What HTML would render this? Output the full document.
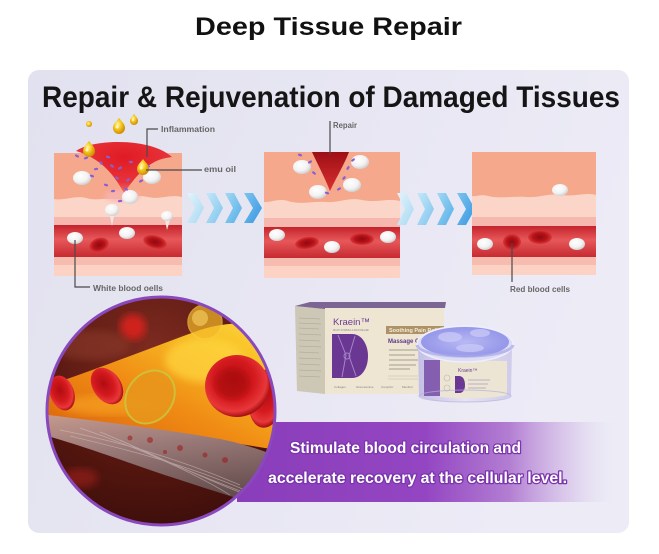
<!DOCTYPE html>
<html><head><meta charset="utf-8">
<style>
html,body{margin:0;padding:0;background:#fff;}
svg{display:block;}
text{font-family:"Liberation Sans",sans-serif;}
</style></head>
<body>
<svg width="659" height="554" viewBox="0 0 659 554" xmlns="http://www.w3.org/2000/svg">
<defs>
  <linearGradient id="cardbg" x1="0" y1="0" x2="1" y2="0.3">
    <stop offset="0" stop-color="#e2e1ef"/>
    <stop offset="0.6" stop-color="#e8e7f3"/>
    <stop offset="1" stop-color="#ecebf6"/>
  </linearGradient>
  <linearGradient id="vessel" x1="0" y1="0" x2="0" y2="1">
    <stop offset="0" stop-color="#c4232c"/>
    <stop offset="0.45" stop-color="#e7585a"/>
    <stop offset="1" stop-color="#c62a31"/>
  </linearGradient>
  <radialGradient id="wedge1" cx="0.5" cy="0.3" r="0.7">
    <stop offset="0" stop-color="#e01b25"/>
    <stop offset="0.7" stop-color="#e8333a"/>
    <stop offset="1" stop-color="#f0706a"/>
  </radialGradient>
  <linearGradient id="wedge2" x1="0" y1="0" x2="0" y2="1">
    <stop offset="0" stop-color="#9e0f16"/>
    <stop offset="1" stop-color="#d8302f"/>
  </linearGradient>
  <radialGradient id="wbc" cx="0.4" cy="0.35" r="0.7">
    <stop offset="0" stop-color="#ffffff"/>
    <stop offset="0.6" stop-color="#f2f2f2"/>
    <stop offset="1" stop-color="#c9c9c9"/>
  </radialGradient>
  <radialGradient id="rbc" cx="0.5" cy="0.5" r="0.5">
    <stop offset="0" stop-color="#8e0a10"/>
    <stop offset="0.6" stop-color="#b8131a"/>
    <stop offset="1" stop-color="#d83a3a"/>
  </radialGradient>
  <radialGradient id="oil" cx="0.4" cy="0.4" r="0.6">
    <stop offset="0" stop-color="#fff6b0"/>
    <stop offset="0.5" stop-color="#f4c818"/>
    <stop offset="1" stop-color="#d08e0c"/>
  </radialGradient>
  <linearGradient id="chev1" x1="0" y1="0" x2="1" y2="1"><stop offset="0" stop-color="#e4f4fb"/><stop offset="1" stop-color="#a6d8f2"/></linearGradient>
  <linearGradient id="chev2" x1="0" y1="0" x2="1" y2="1"><stop offset="0" stop-color="#c4e8f8"/><stop offset="1" stop-color="#7fc4ee"/></linearGradient>
  <linearGradient id="chev3" x1="0" y1="0" x2="1" y2="1"><stop offset="0" stop-color="#a2d8f4"/><stop offset="1" stop-color="#55aee8"/></linearGradient>
  <linearGradient id="chev4" x1="0" y1="0" x2="1" y2="1"><stop offset="0" stop-color="#7cc4f0"/><stop offset="1" stop-color="#3796e0"/></linearGradient>
  <linearGradient id="banner" x1="0" y1="0" x2="1" y2="0">
    <stop offset="0" stop-color="#8a3dba"/>
    <stop offset="0.5" stop-color="#9446c2"/>
    <stop offset="0.72" stop-color="#b27ed2"/>
    <stop offset="0.9" stop-color="#dccbec" stop-opacity="0.7"/>
    <stop offset="1" stop-color="#e6e4f2" stop-opacity="0"/>
  </linearGradient>
  <clipPath id="circ"><circle cx="161" cy="411" r="114"/></clipPath>
  <radialGradient id="circbg" cx="0.45" cy="0.25" r="0.8">
    <stop offset="0" stop-color="#7d2b20"/>
    <stop offset="0.6" stop-color="#55160f"/>
    <stop offset="1" stop-color="#3a0d0a"/>
  </radialGradient>
  <linearGradient id="orange" x1="0" y1="1" x2="1" y2="0">
    <stop offset="0" stop-color="#d65a0c"/>
    <stop offset="0.45" stop-color="#f08c14"/>
    <stop offset="0.8" stop-color="#f8c428"/>
    <stop offset="1" stop-color="#ffd848"/>
  </linearGradient>
  <linearGradient id="wall" x1="0" y1="0" x2="0.3" y2="1">
    <stop offset="0" stop-color="#c79a8e"/>
    <stop offset="0.4" stop-color="#9a7a78"/>
    <stop offset="1" stop-color="#5e4848"/>
  </linearGradient>
  <radialGradient id="bigrbc" cx="0.45" cy="0.4" r="0.6">
    <stop offset="0" stop-color="#b00c12"/>
    <stop offset="0.55" stop-color="#d41a1e"/>
    <stop offset="0.85" stop-color="#e8383a"/>
    <stop offset="1" stop-color="#a80e12"/>
  </radialGradient>
  <filter id="blur4"><feGaussianBlur stdDeviation="4"/></filter>
  <filter id="blur2"><feGaussianBlur stdDeviation="2"/></filter>
  <filter id="blur1"><feGaussianBlur stdDeviation="0.8"/></filter>
  <linearGradient id="jar" x1="0" y1="0" x2="1" y2="0">
    <stop offset="0" stop-color="#c4c0e6"/>
    <stop offset="0.5" stop-color="#e6e3f4"/>
    <stop offset="1" stop-color="#cfcbea"/>
  </linearGradient>
  <radialGradient id="gel" cx="0.5" cy="0.5" r="0.6">
    <stop offset="0" stop-color="#b8b8f4"/>
    <stop offset="1" stop-color="#8e90e6"/>
  </radialGradient>
</defs>

<!-- Title -->
<text x="195" y="35" font-size="25" font-weight="bold" fill="#111" textLength="267" lengthAdjust="spacingAndGlyphs">Deep Tissue Repair</text>

<!-- Card -->
<rect x="28" y="70" width="601" height="463" rx="11" fill="url(#cardbg)"/>

<!-- Heading -->
<text x="42" y="107" font-size="30" font-weight="bold" fill="#151515" textLength="578" lengthAdjust="spacingAndGlyphs">Repair &amp; Rejuvenation of Damaged Tissues</text>

<!-- ============ Panel 1 ============ -->
<g>
  <rect x="54" y="153" width="128" height="123" fill="#fbd6c8"/>
  <path d="M54,153 H182 V197 C170,194 160,200 148,197 C135,194 128,200 115,199 C102,198 96,201 86,198 C75,195 65,201 54,199 Z" fill="#f6a88c"/>
  <rect x="54" y="217" width="128" height="8" fill="#f6b8ae"/>
  <rect x="54" y="225" width="128" height="32" fill="url(#vessel)"/>
  <rect x="54" y="257" width="128" height="8" fill="#f7bcb0"/>
  <rect x="54" y="265" width="128" height="11" fill="#fbd2c4"/>
  <!-- glow -->
  <ellipse cx="122" cy="196" rx="18" ry="6" fill="#f8b4b0" opacity="0.8" filter="url(#blur2)"/>
  <!-- wedge -->
  <path d="M76,151 C92,139 150,137 172,157 C152,159 140,170 124,193 C113,173 100,158 76,151 Z" fill="url(#wedge1)"/>
  <!-- cells -->
  <ellipse cx="82" cy="178" rx="9" ry="7" fill="url(#wbc)"/>
  <ellipse cx="152" cy="177" rx="9" ry="7" fill="url(#wbc)"/>
  <ellipse cx="130" cy="197" rx="8" ry="7" fill="url(#wbc)"/>
  <path d="M110,216 L112,226 L114,216 Z" fill="#f4e4e4"/>
  <ellipse cx="112" cy="210" rx="7" ry="6" fill="url(#wbc)"/>
  <path d="M165,220 L167,230 L170,220 Z" fill="#f4e4e4"/>
  <ellipse cx="167" cy="216" rx="6" ry="5" fill="url(#wbc)"/>
  <ellipse cx="75" cy="238" rx="8" ry="6" fill="url(#wbc)"/>
  <ellipse cx="127" cy="233" rx="8" ry="6" fill="url(#wbc)"/>
  <ellipse cx="99" cy="245" rx="10" ry="7" transform="rotate(-20 99 245)" fill="url(#rbc)"/>
  <ellipse cx="155" cy="242" rx="12" ry="6.5" transform="rotate(15 155 242)" fill="url(#rbc)"/>
  <!-- purple dots -->
  <g fill="#8a5fd2">
    <ellipse cx="77" cy="156" rx="2.2" ry="1.2" transform="rotate(30 77 156)"/>
    <ellipse cx="86" cy="158" rx="2.2" ry="1.2" transform="rotate(-20 86 158)"/>
    <ellipse cx="108" cy="157" rx="2.2" ry="1.2" transform="rotate(20 108 157)"/>
    <ellipse cx="112" cy="166" rx="2.2" ry="1.2" transform="rotate(40 112 166)"/>
    <ellipse cx="96" cy="169" rx="2.2" ry="1.2" transform="rotate(-10 96 169)"/>
    <ellipse cx="92" cy="176" rx="2.2" ry="1.2" transform="rotate(20 92 176)"/>
    <ellipse cx="120" cy="168" rx="2.2" ry="1.2" transform="rotate(-30 120 168)"/>
    <ellipse cx="131" cy="162" rx="2.2" ry="1.2" transform="rotate(10 131 162)"/>
    <ellipse cx="139" cy="170" rx="2.2" ry="1.2" transform="rotate(-20 139 170)"/>
    <ellipse cx="117" cy="178" rx="2.2" ry="1.2" transform="rotate(30 117 178)"/>
    <ellipse cx="128" cy="180" rx="2.2" ry="1.2" transform="rotate(-40 128 180)"/>
    <ellipse cx="106" cy="185" rx="2.2" ry="1.2" transform="rotate(20 106 185)"/>
    <ellipse cx="113" cy="191" rx="2.2" ry="1.2" transform="rotate(-10 113 191)"/>
    <ellipse cx="126" cy="189" rx="2.2" ry="1.2" transform="rotate(30 126 189)"/>
    <ellipse cx="141" cy="181" rx="2.2" ry="1.2" transform="rotate(-30 141 181)"/>
    <ellipse cx="148" cy="166" rx="2.2" ry="1.2" transform="rotate(20 148 166)"/>
    <ellipse cx="101" cy="163" rx="2.2" ry="1.2" transform="rotate(50 101 163)"/>
    <ellipse cx="120" cy="201" rx="2.2" ry="1.2" transform="rotate(-10 120 201)"/>
  </g>
  <!-- oil drops -->
  <g fill="url(#oil)">
    <circle cx="89" cy="124" r="3"/>
    <path d="M119,118 C122,122 125,124 125,128 A6,6 0 0 1 113,128 C113,124 116,122 119,118 Z"/>
    <path d="M134,114 C136,117 138,118 138,121 A4,4 0 0 1 130,121 C130,118 132,117 134,114 Z"/>
    <path d="M89,141 C92,145 95,147 95,151 A6,6 0 0 1 83,151 C83,147 86,145 89,141 Z"/>
    <path d="M143,159 C146,163 149,165 149,169 A6,6 0 0 1 137,169 C137,165 140,163 143,159 Z"/>
  </g>
  <g fill="#fffbe0" opacity="0.8">
    <circle cx="117" cy="127" r="1.5"/><circle cx="87" cy="150" r="1.5"/><circle cx="141" cy="168" r="1.5"/><circle cx="133" cy="120" r="1"/>
  </g>
</g>

<!-- labels panel 1 -->
<g stroke="#4a4a4a" stroke-width="1.2" fill="none">
  <polyline points="158,129 147,129 147,157"/>
  <line x1="146" y1="170" x2="202" y2="170"/>
  <polyline points="75,240 75,287 90,287"/>
</g>
<g font-size="8" font-weight="bold" fill="#666">
  <text x="161" y="132" textLength="54" lengthAdjust="spacingAndGlyphs">Inflammation</text>
  <text x="204" y="172" textLength="32" lengthAdjust="spacingAndGlyphs">emu oil</text>
  <text x="93" y="291" textLength="70" lengthAdjust="spacingAndGlyphs">White blood oells</text>
</g>

<!-- chevrons set 1 -->
<g>
  <polygon points="187,193 196,193 204,208 196,223 187,223 195,208" fill="url(#chev1)"/>
  <polygon points="206,193 215,193 223,208 215,223 206,223 214,208" fill="url(#chev2)"/>
  <polygon points="225,193 234,193 242,208 234,223 225,223 233,208" fill="url(#chev3)"/>
  <polygon points="244,193 253,193 262,208 253,223 244,223 253,208" fill="url(#chev4)"/>
</g>

<!-- ============ Panel 2 ============ -->
<g>
  <rect x="264" y="152" width="136" height="126" fill="#fbd6c8"/>
  <path d="M264,152 H400 V201 C388,198 376,203 362,200 C348,197 340,203 326,202 C312,201 300,205 288,201 C278,198 270,203 264,202 Z" fill="#f6a88c"/>
  <rect x="264" y="218" width="136" height="9" fill="#f6b8ae"/>
  <rect x="264" y="227" width="136" height="31" fill="url(#vessel)"/>
  <rect x="264" y="258" width="136" height="8" fill="#f7bcb0"/>
  <rect x="264" y="266" width="136" height="12" fill="#fbd2c4"/>
  <path d="M312,152 H349 C344,165 336,178 330,191 C325,178 318,165 312,152 Z" fill="url(#wedge2)"/>
  <ellipse cx="302" cy="167" rx="9" ry="7" fill="url(#wbc)"/>
  <ellipse cx="360" cy="162" rx="9" ry="7" fill="url(#wbc)"/>
  <ellipse cx="318" cy="192" rx="9" ry="7" fill="url(#wbc)"/>
  <ellipse cx="352" cy="185" rx="9" ry="7" fill="url(#wbc)"/>
  <ellipse cx="277" cy="235" rx="8" ry="6" fill="url(#wbc)"/>
  <ellipse cx="332" cy="247" rx="8" ry="6" fill="url(#wbc)"/>
  <ellipse cx="388" cy="237" rx="8" ry="6" fill="url(#wbc)"/>
  <ellipse cx="307" cy="243" rx="12" ry="6" transform="rotate(-10 307 243)" fill="url(#rbc)"/>
  <ellipse cx="362" cy="239" rx="12" ry="6" fill="url(#rbc)"/>
  <g fill="#8a5fd2">
    <ellipse cx="300" cy="155" rx="2.2" ry="1.2" transform="rotate(20 300 155)"/>
    <ellipse cx="310" cy="162" rx="2.2" ry="1.2" transform="rotate(-30 310 162)"/>
    <ellipse cx="314" cy="173" rx="2.2" ry="1.2" transform="rotate(40 314 173)"/>
    <ellipse cx="327" cy="193" rx="2.2" ry="1.2" transform="rotate(20 327 193)"/>
    <ellipse cx="339" cy="189" rx="2.2" ry="1.2" transform="rotate(-30 339 189)"/>
    <ellipse cx="344" cy="178" rx="2.2" ry="1.2" transform="rotate(-50 344 178)"/>
    <ellipse cx="348" cy="168" rx="2.2" ry="1.2" transform="rotate(-60 348 168)"/>
    <ellipse cx="353" cy="160" rx="2.2" ry="1.2" transform="rotate(-40 353 160)"/>
  </g>
</g>
<g stroke="#4a4a4a" stroke-width="1.2" fill="none">
  <line x1="330" y1="121" x2="330" y2="155"/>
</g>
<text x="333" y="128" font-size="8" font-weight="bold" fill="#666" textLength="24" lengthAdjust="spacingAndGlyphs">Repair</text>

<!-- chevrons set 2 -->
<g>
  <polygon points="397,193 406,193 414,209 406,225 397,225 405,209" fill="url(#chev1)"/>
  <polygon points="417,193 426,193 434,209 426,225 417,225 425,209" fill="url(#chev2)"/>
  <polygon points="437,193 446,193 454,209 446,225 437,225 445,209" fill="url(#chev3)"/>
  <polygon points="457,193 466,193 475,209 466,225 457,225 466,209" fill="url(#chev4)"/>
</g>

<!-- ============ Panel 3 ============ -->
<g>
  <rect x="472" y="152" width="124" height="123" fill="#fbd6c8"/>
  <path d="M472,152 H596 V195 C585,192 575,197 562,195 C548,193 540,198 526,197 C512,196 500,199 488,196 C480,194 476,197 472,196 Z" fill="#f6a88c"/>
  <rect x="472" y="217" width="124" height="9" fill="#f6b8ae"/>
  <rect x="472" y="226" width="124" height="31" fill="url(#vessel)"/>
  <rect x="472" y="257" width="124" height="8" fill="#f7bcb0"/>
  <rect x="472" y="265" width="124" height="10" fill="#fbd2c4"/>
  <ellipse cx="560" cy="190" rx="8" ry="6" fill="url(#wbc)"/>
  <ellipse cx="485" cy="244" rx="8" ry="6" fill="url(#wbc)"/>
  <ellipse cx="577" cy="244" rx="8" ry="6" fill="url(#wbc)"/>
  <ellipse cx="512" cy="242" rx="9" ry="8" fill="url(#rbc)"/>
  <ellipse cx="540" cy="237" rx="12" ry="7" fill="url(#rbc)"/>
</g>
<g stroke="#4a4a4a" stroke-width="1.2" fill="none">
  <line x1="512" y1="243" x2="512" y2="282"/>
</g>
<text x="510" y="292" font-size="8" font-weight="bold" fill="#666" textLength="60" lengthAdjust="spacingAndGlyphs">Red blood cells</text>

<!-- ============ Banner ============ -->
<rect x="237" y="422" width="378" height="80" fill="url(#banner)"/>
<g font-size="16" font-weight="bold" fill="#ffffff" stroke="#7b34ad" stroke-width="2.6" paint-order="stroke" stroke-linejoin="round">
  <text x="290" y="453" textLength="231" lengthAdjust="spacingAndGlyphs">Stimulate blood circulation and</text>
  <text x="268" y="483" textLength="299" lengthAdjust="spacingAndGlyphs">accelerate recovery at the cellular level.</text>
</g>

<!-- ============ Circle image ============ -->
<g clip-path="url(#circ)">
  <rect x="40" y="290" width="250" height="240" fill="url(#circbg)"/>
  <circle cx="133" cy="327" r="13" fill="#d0201c" filter="url(#blur4)"/>
  <ellipse cx="90" cy="345" rx="40" ry="15" fill="#8a3a2c" opacity="0.6" filter="url(#blur4)"/>
  <path d="M40,388 C90,372 150,348 200,330 C232,320 262,322 290,332 L290,452 C240,444 170,432 40,422 Z" fill="url(#orange)"/>
  <ellipse cx="205" cy="360" rx="40" ry="22" fill="#ffd640" opacity="0.7" filter="url(#blur4)"/>
  <ellipse cx="110" cy="405" rx="50" ry="10" fill="#f6a020" opacity="0.7" filter="url(#blur4)"/>
  <!-- vessel wall -->
  <path d="M40,414 C100,421 170,430 220,439 C250,445 272,454 290,462 L290,515 C250,502 200,487 150,470 C110,456 70,442 40,434 Z" fill="url(#wall)"/>
  <g stroke="#d8c8c8" stroke-width="0.7" opacity="0.55" fill="none">
    <path d="M60,430 C110,440 170,455 240,485"/>
    <path d="M70,436 C120,448 180,462 250,492"/>
    <path d="M80,428 C130,445 190,470 230,495"/>
    <path d="M100,432 C150,452 200,478 260,500"/>
    <path d="M120,440 C160,460 210,480 270,502"/>
  </g>
  <g fill="#a01818" opacity="0.55">
    <circle cx="150" cy="440" r="3"/><circle cx="180" cy="448" r="3"/><circle cx="205" cy="455" r="2.5"/><circle cx="130" cy="438" r="2.5"/><circle cx="225" cy="460" r="3"/><circle cx="165" cy="452" r="2"/>
  </g>
  <ellipse cx="80" cy="478" rx="18" ry="10" fill="#a0201c" opacity="0.6" filter="url(#blur4)"/>
  <!-- red cells -->
  <ellipse cx="62" cy="393" rx="12" ry="18" transform="rotate(-20 62 393)" fill="url(#bigrbc)"/>
  <ellipse cx="107" cy="386" rx="14" ry="20" transform="rotate(-35 107 386)" fill="url(#bigrbc)"/>
  <ellipse cx="267" cy="398" rx="18" ry="30" transform="rotate(10 267 398)" fill="url(#bigrbc)"/>
  <ellipse cx="237" cy="386" rx="32" ry="31" fill="url(#bigrbc)"/>
  <ellipse cx="232" cy="384" rx="17" ry="15" fill="#a80a10" opacity="0.6" filter="url(#blur2)"/>
  <!-- yellow cells -->
  <ellipse cx="150" cy="397" rx="23" ry="28" transform="rotate(35 150 397)" fill="#e8961c" opacity="0.85" stroke="#c8c840" stroke-width="2"/>
  <circle cx="205" cy="322" r="17" fill="#f4b828" opacity="0.7" stroke="#f6cc40" stroke-width="1.5"/>
  <circle cx="200" cy="318" r="8" fill="#ffe070" opacity="0.5"/>
</g>
<circle cx="161" cy="411" r="114" fill="none" stroke="#8a48bd" stroke-width="3"/>

<!-- ============ Product ============ -->
<g>
  <!-- box side -->
  <polygon points="295,306 325,309 325,394 297,391" fill="#cdc7b6"/>
  <g stroke="#a9a393" stroke-width="0.6">
    <line x1="299" y1="318" x2="320" y2="319"/><line x1="299" y1="323" x2="321" y2="324"/><line x1="299" y1="328" x2="319" y2="329"/>
    <line x1="299" y1="334" x2="321" y2="335"/><line x1="299" y1="340" x2="320" y2="341"/><line x1="299" y1="346" x2="321" y2="347"/>
    <line x1="299" y1="352" x2="319" y2="353"/><line x1="299" y1="358" x2="321" y2="359"/><line x1="299" y1="364" x2="320" y2="365"/>
    <line x1="299" y1="370" x2="321" y2="371"/><line x1="299" y1="376" x2="320" y2="377"/>
  </g>
  <!-- box top -->
  <polygon points="295,306 310,302 446,302 445,308 325,309" fill="#7c6592"/>
  <!-- box front -->
  <rect x="325" y="308" width="119" height="86" fill="#eee6d3"/>
  <text x="333" y="325" font-size="9.5" fill="#6a3d8f">Kraein™</text>
  <text x="333" y="331" font-size="2.5" fill="#888">MULTI-FORMULA PAIN RELIEF</text>
  <path d="M332,334 H352 C362,334 368,345 368,356 C368,368 362,378 352,378 H332 Z" fill="#6a3793"/>
  <g stroke="#b596d6" stroke-width="1" fill="none" opacity="0.8">
    <path d="M338,335 L346,355 L342,377"/><path d="M355,336 L349,356 L356,376"/><circle cx="347" cy="356" r="3"/>
  </g>
  <rect x="386" y="326" width="58" height="8" fill="#ad9268"/>
  <text x="389" y="332" font-size="5.5" font-weight="bold" fill="#f5ecd8">Soothing Pain Relief</text>
  <text x="388" y="343" font-size="6" font-weight="bold" fill="#5f3a86">Massage Gel</text>
  <g stroke="#8a8478" stroke-width="0.8">
    <line x1="389" y1="350" x2="418" y2="350"/><line x1="389" y1="355" x2="415" y2="355"/>
    <line x1="389" y1="360" x2="418" y2="360"/><line x1="389" y1="365" x2="416" y2="365"/>
    <line x1="389" y1="369" x2="410" y2="369"/>
  </g>
  <g stroke="#c2b9a6" stroke-width="0.6">
    <line x1="388" y1="376" x2="418" y2="376"/><line x1="388" y1="379" x2="418" y2="379"/>
  </g>
  <g font-size="3" fill="#8a8478">
    <text x="334" y="388">Collagen</text><text x="356" y="388">Glucosamine</text><text x="381" y="388">Camphor</text><text x="402" y="388">Menthol</text>
  </g>
  <!-- jar -->
  <path d="M418,343 L419,396 C430,404 500,404 511,396 L512,343 Z" fill="url(#jar)"/>
  <rect x="424" y="360" width="16" height="36" fill="#7c52aa" opacity="0.9"/>
  <path d="M440,361 H507 V395 C490,399 460,399 440,397 Z" fill="#ece5d4"/>
  <text x="458" y="372" font-size="5" fill="#6a3d8f">Kraein™</text>
  <path d="M455,376 H459 C463,376 465,380 465,385 C465,390 463,393 459,393 H455 Z" fill="#6a3793"/>
  <g stroke="#8e7ab0" stroke-width="0.6"><line x1="468" y1="380" x2="490" y2="380"/><line x1="468" y1="384" x2="488" y2="384"/><line x1="468" y1="388" x2="486" y2="388"/></g>
  <circle cx="447" cy="378" r="3" fill="none" stroke="#bba" stroke-width="0.6"/>
  <circle cx="447" cy="388" r="3" fill="none" stroke="#bba" stroke-width="0.6"/>
  <ellipse cx="465" cy="396" rx="46" ry="6" fill="none" stroke="#b5b0da" stroke-width="1" opacity="0.7"/>
  <!-- lid / gel -->
  <ellipse cx="465" cy="344" rx="48" ry="18" fill="#dcdcf6"/>
  <ellipse cx="465" cy="342" rx="44" ry="15" fill="url(#gel)"/>
  <g fill="#c8c8f8" opacity="0.8">
    <ellipse cx="450" cy="337" rx="12" ry="5"/><ellipse cx="480" cy="333" rx="10" ry="4"/><ellipse cx="470" cy="348" rx="14" ry="4"/>
  </g>
  <ellipse cx="465" cy="344" rx="48" ry="18" fill="none" stroke="#eeeefc" stroke-width="1.5"/>
  <path d="M417,345 C420,360 510,360 513,345" fill="none" stroke="#a6a6e8" stroke-width="3" opacity="0.7"/>
</g>
</svg>
</body></html>
